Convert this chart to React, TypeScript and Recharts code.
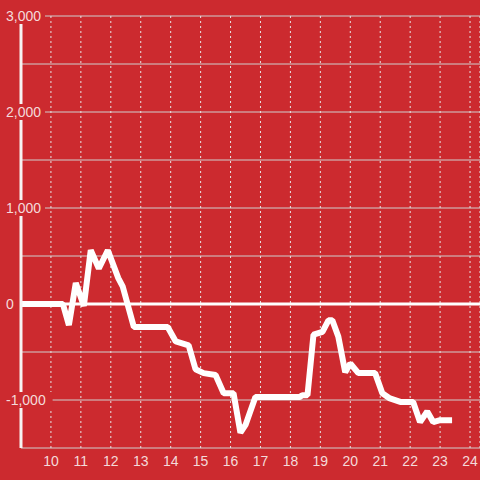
import { LineChart, Line, XAxis, YAxis, CartesianGrid, ReferenceLine } from "recharts";

const BG = "#cc2a2f";
const TEXT = "#f4dada";

// x positions (hours) and values
const HOURS = [
  9, 10.4, 10.6, 10.83, 11.1, 11.33, 11.6, 11.9, 12.25, 12.4, 12.77, 13.9, 14.17, 14.6,
  14.83, 15.1, 15.5, 15.77, 16.1, 16.33, 16.5, 16.83, 18.3, 18.4, 18.57, 18.77, 19.07,
  19.27, 19.4, 19.6, 19.83, 20, 20.27, 20.83, 21.07, 21.3, 21.67, 22.1, 22.33, 22.57,
  22.77, 23, 23.4,
];
const VALUES = [
  0, 0, -220, 220, -20, 560, 370, 560, 270, 180, -240, -240, -390, -430,
  -680, -720, -740, -930, -930, -1340, -1260, -970, -970, -950, -950, -320, -290,
  -170, -170, -340, -710, -620, -720, -720, -930, -980, -1020, -1020, -1230, -1120,
  -1230, -1210, -1210,
];
const X_TICKS = [10, 11, 12, 13, 14, 15, 16, 17, 18, 19, 20, 21, 22, 23, 24];
const Y_TICKS = [-1500, -1000, -500, 0, 500, 1000, 1500, 2000, 2500, 3000];
const Y_LABELED = [-1000, 0, 1000, 2000, 3000];

const data = HOURS.map((h, i) => ({ h, v: VALUES[i] }));

function YTick(props: any) {
  const { y, payload } = props;
  if (!Y_LABELED.includes(payload.value)) return null;
  const label = payload.value.toLocaleString("en-US");
  const w = label.length * 7.6 + 3;
  return (
    <g>
      <rect x={4} y={y - 8} width={w} height={16} fill={BG} />
      <text x={6} y={y} dy="0.35em" textAnchor="start" fill={TEXT} fontSize={14}
        fontFamily="'Liberation Sans', Arial, sans-serif">
        {label}
      </text>
    </g>
  );
}

export default function App() {
  return (
    <div style={{ position: "fixed", left: 0, top: 0, width: 480, height: 480, background: BG }}>
      <LineChart width={480} height={480} data={data} margin={{ top: 16, right: 0, bottom: 0, left: 0 }}>
        <CartesianGrid vertical={false} stroke="#cfcfcf" strokeWidth={1} />
        <CartesianGrid horizontal={false} stroke="#e6e6e6" strokeDasharray="2 3" strokeWidth={1} />
        <XAxis
          dataKey="h" type="number" domain={[9, 24.333]} ticks={X_TICKS} allowDataOverflow
          axisLine={false} tickLine={false} height={32}
          tick={{ fill: TEXT, fontSize: 14, fontFamily: "'Liberation Sans', Arial, sans-serif" }}
        />
        <YAxis
          type="number" domain={[-1500, 3000]} ticks={Y_TICKS} width={21}
          axisLine={{ stroke: "#f7f2f2", strokeWidth: 3 }} tickLine={false}
          tick={<YTick />}
        />
        <ReferenceLine y={0} stroke="#ffffff" strokeWidth={3} />
        <Line
          dataKey="v" stroke="#ffffff" strokeWidth={6} strokeLinejoin="bevel" dot={false}
          isAnimationActive={false} type="linear"
        />
      </LineChart>
    </div>
  );
}
